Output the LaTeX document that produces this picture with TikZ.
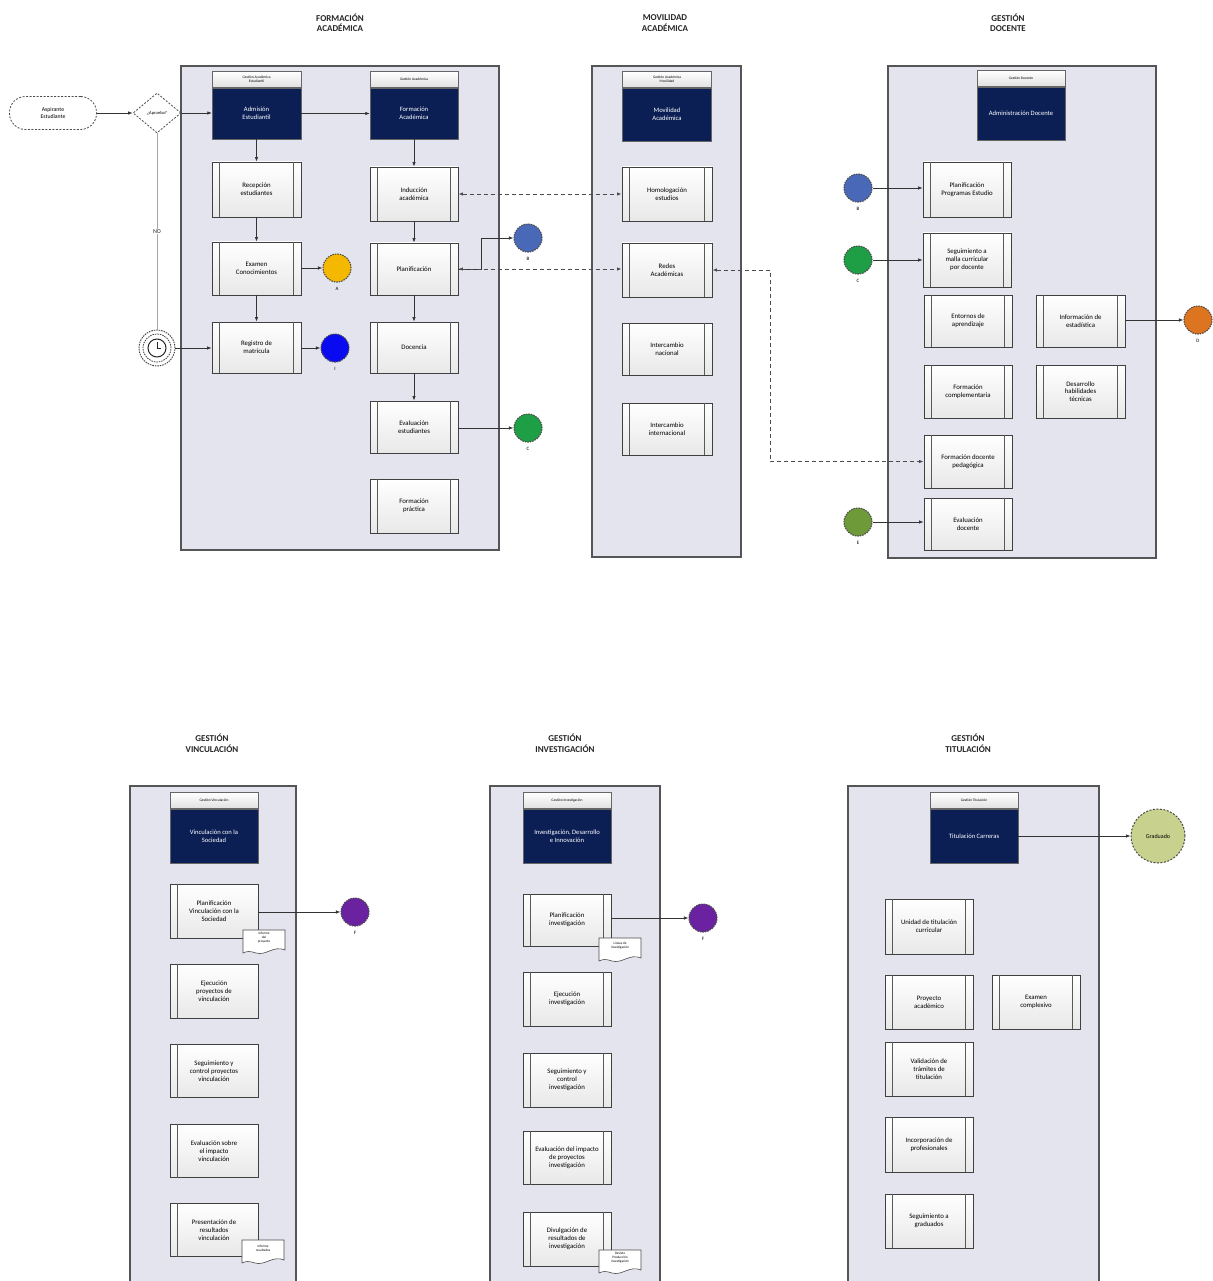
\documentclass[tikz,border=0pt]{standalone}
\usepackage{fontspec}
\setmainfont{Carlito}
\usetikzlibrary{shapes.geometric,arrows.meta,calc}
\definecolor{navy}{HTML}{0B1F55}
\definecolor{poolfill}{HTML}{E4E4EF}
\definecolor{poolline}{HTML}{555555}
\definecolor{cyel}{HTML}{F5B800}
\definecolor{cblue}{HTML}{0A0AF0}
\definecolor{csteel}{HTML}{4A68B8}
\definecolor{cgreen}{HTML}{1E9E45}
\definecolor{corange}{HTML}{DD7420}
\definecolor{colive}{HTML}{6E9A3A}
\definecolor{cpurple}{HTML}{6A22A0}
\definecolor{cgrad}{HTML}{C8D18E}
\tikzset{
  pool/.style={draw=poolline, line width=1.3pt, fill=poolfill},
  task/.style={rectangle, draw=black!75, line width=0.9pt, top color=white, bottom color=black!9, align=center, font=\fontsize{6.8}{7.8}\selectfont, inner sep=1pt},
  innerl/.style={draw=black!65, line width=0.8pt},
  darkbox/.style={rectangle, fill=navy, draw=black!60, text=white, align=center, font=\fontsize{6.6}{7.6}\selectfont, inner sep=1pt},
  tabbox/.style={rectangle, draw=black!60, top color=white, bottom color=black!12, align=center, font=\fontsize{3.6}{4.2}\selectfont, minimum height=16pt, inner sep=0.5pt},
  evt/.style={circle, draw=black!70, dash pattern=on 1.5pt off 1pt, line width=1.1pt, minimum size=28pt, inner sep=0pt},
  evlab/.style={font=\fontsize{5}{6}\selectfont, label distance=1pt},
  arr/.style={-{Latex[length=4.5pt,width=3.5pt]}, draw=black!80, line width=0.7pt},
  dasharr/.style={{Latex[length=4.5pt,width=3.5pt]}-{Latex[length=4.5pt,width=3.5pt]}, draw=black!70, line width=0.9pt, dash pattern=on 4pt off 3pt},
  header/.style={font=\bfseries\fontsize{9}{10.5}\selectfont, align=center, text=black!85},
  doctext/.style={font=\fontsize{3.4}{4}\selectfont, align=center, inner sep=0pt},
  docicon/.pic={\draw[black!70, fill=white, line width=0.6pt] (-21,-12) -- (21,-12) -- (21,8) .. controls (10,3) and (2,14) .. (-8,11) .. controls (-14,9) and (-17,9) .. (-21,11) -- cycle;}
}
\newcommand{\mktask}[6]{%
  \node[task, minimum width=#4pt, minimum height=#5pt] (#1) at (#2,#3) {#6};
  \draw[innerl] ([xshift=8pt]#1.north west) -- ([xshift=8pt]#1.south west);
  \draw[innerl] ([xshift=-8pt]#1.north east) -- ([xshift=-8pt]#1.south east);}
\newcommand{\mktaskL}[6]{%
  \node[task, minimum width=#4pt, minimum height=#5pt] (#1) at (#2,#3) {#6};
  \draw[innerl] ([xshift=8pt]#1.north west) -- ([xshift=8pt]#1.south west);}
\newcommand{\mkdark}[7]{%
  \node[darkbox, minimum width=#4pt, minimum height=#5pt] (#1) at (#2,#3) {#7};
  \node[tabbox, minimum width=#4pt, anchor=south] (#1tab) at (#1.north) {#6};}
\begin{document}
\begin{tikzpicture}[x=1pt,y=-1pt]
\useasboundingbox (0,0) rectangle (1212,1281);
\fill[white] (0,0) rectangle (1212,1281);
% headers
\node[header] (h1) at (340,23) {FORMACIÓN\\ACADÉMICA};
\node[header] (h2) at (665,23) {MOVILIDAD\\ACADÉMICA};
\node[header] (h3) at (1008,23) {GESTIÓN\\DOCENTE};
\node[header] (h4) at (212,743) {GESTIÓN\\VINCULACIÓN};
\node[header] (h5) at (565,743) {GESTIÓN\\INVESTIGACIÓN};
\node[header] (h6) at (968,743) {GESTIÓN\\TITULACIÓN};
% pools
\draw[pool] (181,66) rectangle (499,550);
\draw[pool] (592,66) rectangle (741,557);
\draw[pool] (888,66) rectangle (1156,558);
\draw[pool] (130,786) rectangle (296,1295);
\draw[pool] (490,786) rectangle (660,1295);
\draw[pool] (848,786) rectangle (1099,1295);

% ---------------- Formacion academica
\node[draw=black!70, dash pattern=on 2pt off 1.5pt, line width=0.8pt, rounded corners=16pt, minimum width=87pt, minimum height=33pt, fill=white, align=center, font=\fontsize{5.8}{6.8}\selectfont] (start) at (53,113) {Aspirante\\Estudiante};
\node[diamond, draw=black!70, dash pattern=on 2pt off 1.5pt, line width=0.8pt, fill=white, minimum width=48pt, minimum height=40pt, inner sep=0pt, font=\fontsize{4.5}{5}\selectfont] (dia) at (157,113) {¿Aprueba?};
\node[circle, draw=black!75, dash pattern=on 1.5pt off 1pt, line width=0.9pt, fill=white, minimum size=36pt, inner sep=0pt] (timer) at (157,348) {};
\draw[black!75, dash pattern=on 1.5pt off 1pt, line width=0.8pt] (timer.center) circle (14pt);
\draw[black!85, line width=1pt] (timer.center) circle (9pt);
\draw[black!85, line width=0.9pt] (timer.center) -- ++(0,6pt) (timer.center) -- ++(4pt,0);

\mkdark{adm}{256.5}{113.5}{89}{51}{Gestión Académica\\Estudiantil}{Admisión\\Estudiantil}
\mkdark{form}{414}{113.5}{88}{51}{Gestión Académica}{Formación\\Académica}
\mktask{rec}{256.5}{189.5}{89}{55}{Recepción\\estudiantes}
\mktask{exa}{256.5}{268.5}{89}{53}{Examen\\Conocimientos}
\mktask{reg}{256.5}{347.5}{89}{51}{Registro de\\matrícula}
\mktask{ind}{414}{194}{88}{54}{Inducción\\académica}
\mktask{pla}{414}{269}{88}{52}{Planificación}
\mktask{doc}{414}{347.5}{88}{51}{Docencia}
\mktask{eva}{414}{427}{88}{52}{Evaluación\\estudiantes}
\mktask{fp}{414}{506}{88}{54}{Formación\\práctica}

\node[evt, fill=cyel, label={[evlab]below:A}] (eA) at (337,268) {};
\node[evt, fill=cblue, label={[evlab]below:I}] (eI) at (335,348) {};
\node[evt, fill=csteel, label={[evlab]below:B}] (eB) at (528,238) {};
\node[evt, fill=cgreen, label={[evlab]below:C}] (eC) at (528,428) {};

\draw[arr] (start) -- (dia);
\draw[arr] (dia) -- (dia -| adm.west);
\draw[black!35, line width=0.8pt] (dia.south) -- node[fill=white, inner sep=1pt, font=\fontsize{6}{6.5}\selectfont, text=black!85] (nolab) {NO} (timer.north);
\draw[arr] (timer) -- (timer -| reg.west);
\draw[arr] (adm) -- (form);
\draw[arr] (adm) -- (rec);
\draw[arr] (rec) -- (exa);
\draw[arr] (exa) -- (reg);
\draw[arr] (form) -- (ind);
\draw[arr] (ind) -- (pla);
\draw[arr] (pla) -- (doc);
\draw[arr] (doc) -- (eva);
\draw[arr] (exa.east |- eA) -- (eA);
\draw[arr] (reg.east |- eI) -- (eI);
\coordinate (jB) at (481,269);
\draw[arr] (pla.east) -- (jB) |- (eB);
\draw[arr] (eva.east |- eC) -- (eC);

% ---------------- Movilidad
\mkdark{mov}{667}{114.5}{89}{53}{Gestión Académica\\Movilidad}{Movilidad\\Académica}
\mktask{hom}{667}{194}{90}{54}{Homologación\\estudios}
\mktask{red}{667}{270}{90}{54}{Redes\\Académicas}
\mktask{inn}{667}{349}{90}{52}{Intercambio\\nacional}
\mktask{ini}{667}{429}{90}{52}{Intercambio\\internacional}

% ---------------- Docente
\mkdark{admd}{1021}{113.5}{88}{53}{Gestión Docente}{Administración Docente}
\mktask{pp}{967}{189.5}{88}{55}{Planificación\\Programas Estudio}
\mktask{seg}{967}{260}{88}{54}{Seguimiento a\\malla curricular\\por docente}
\mktask{ent}{968}{321}{88}{52}{Entornos de\\aprendizaje}
\mktask{inf}{1080.5}{321}{89}{52}{Información de\\estadística}
\mktask{fcomp}{968}{391.5}{88}{53}{Formación\\complementaria}
\mktask{des}{1080.5}{391.5}{89}{53}{Desarrollo\\habilidades\\técnicas}
\mktask{ped}{968}{461.5}{88}{53}{Formación docente\\pedagógica}
\mktask{evd}{968}{524}{88}{52}{Evaluación\\docente}

\node[evt, fill=csteel, label={[evlab]below:B}] (eB2) at (858,188) {};
\node[evt, fill=cgreen, label={[evlab]below:C}] (eC2) at (858,260) {};
\node[evt, fill=corange, label={[evlab]below:D}] (eD) at (1198,320) {};
\node[evt, fill=colive, label={[evlab]below:E}] (eE) at (858,522) {};
\draw[arr] (eB2) -- (eB2 -| pp.west);
\draw[arr] (eC2) -- (eC2 -| seg.west);
\draw[arr] (inf.east |- eD) -- (eD);
\draw[arr] (eE) -- (eE -| evd.west);

% dashed links
\draw[dasharr] (ind.east) -- (ind.east -| hom.west);
\draw[dasharr] (pla.east) -- (pla.east -| red.west);
\coordinate (jR) at (770,270);
\draw[dasharr] (red.east) -- (jR) |- (ped.west);

% ---------------- Vinculacion
\mkdark{vin}{214}{836}{88}{54}{Gestión Vinculación}{Vinculación con la\\Sociedad}
\mktaskL{pv}{214}{911}{88}{54}{Planificación\\Vinculación con la\\Sociedad}
\mktaskL{ev}{214}{991}{88}{54}{Ejecución\\proyectos de\\vinculación}
\mktaskL{sv}{214}{1071}{88}{53}{Seguimiento y\\control proyectos\\vinculación}
\mktaskL{evv}{214}{1151}{88}{53}{Evaluación sobre\\el impacto\\vinculación}
\mktaskL{prv}{214}{1230}{88}{53}{Presentación de\\resultados\\vinculación}
\pic at (264,942) {docicon};
\node[doctext] (dv1) at (264,938) {Informe\\del\\proyecto};
\pic at (263,1252) {docicon};
\node[doctext] (dv2) at (263,1248) {Informe\\resultados};
\node[evt, fill=cpurple, label={[evlab]below:F}] (eF) at (355,912) {};
\draw[arr] (pv.east |- eF) -- (eF);

% ---------------- Investigacion
\mkdark{inv}{567}{836}{88}{54}{Gestión Investigación}{Investigación, Desarrollo\\e Innovación}
\mktask{pi}{567}{920}{88}{52}{Planificación\\investigación}
\mktask{ei}{567}{999}{88}{54}{Ejecución\\investigación}
\mktask{si}{567}{1080}{88}{54}{Seguimiento y\\control\\investigación}
\mktask{evi}{567}{1158}{88}{53}{Evaluación del impacto\\de proyectos\\investigación}
\mktask{di}{567}{1239}{88}{54}{Divulgación de\\resultados de\\investigación}
\pic at (620,950) {docicon};
\node[doctext] (di1) at (620,946) {Líneas de\\investigación};
\begin{scope}[shift={(620,1262)}, yscale=1.4, xscale=1.2]
\pic at (0,0) {docicon};
\end{scope}
\node[doctext] (di2) at (620,1258) {Revista\\Producción\\investigación};
\node[evt, fill=cpurple, label={[evlab]below:F}] (eF2) at (703,918) {};
\draw[arr] (pi.east |- eF2) -- (eF2);

% ---------------- Titulacion
\mkdark{tit}{974}{836}{88}{54}{Gestión Titulación}{Titulación Carreras}
\mktask{uni}{929}{926.5}{88}{55}{Unidad de titulación\\curricular}
\mktask{pa}{929}{1002}{88}{54}{Proyecto\\académico}
\mktask{ec}{1036}{1002}{88}{54}{Examen\\complexivo}
\mktask{val}{929}{1069}{88}{54}{Validación de\\trámites de\\titulación}
\mktask{inc}{929}{1144.5}{88}{55}{Incorporación de\\profesionales}
\mktask{sg}{929}{1221}{88}{54}{Seguimiento a\\graduados}
\node[circle, draw=black!70, dash pattern=on 2pt off 1.5pt, line width=1pt, fill=cgrad, minimum size=54pt, inner sep=0pt, font=\fontsize{6}{7}\selectfont] (grad) at (1158,836) {Graduado};
\draw[arr] (tit) -- (grad);
\end{tikzpicture}
\end{document}
